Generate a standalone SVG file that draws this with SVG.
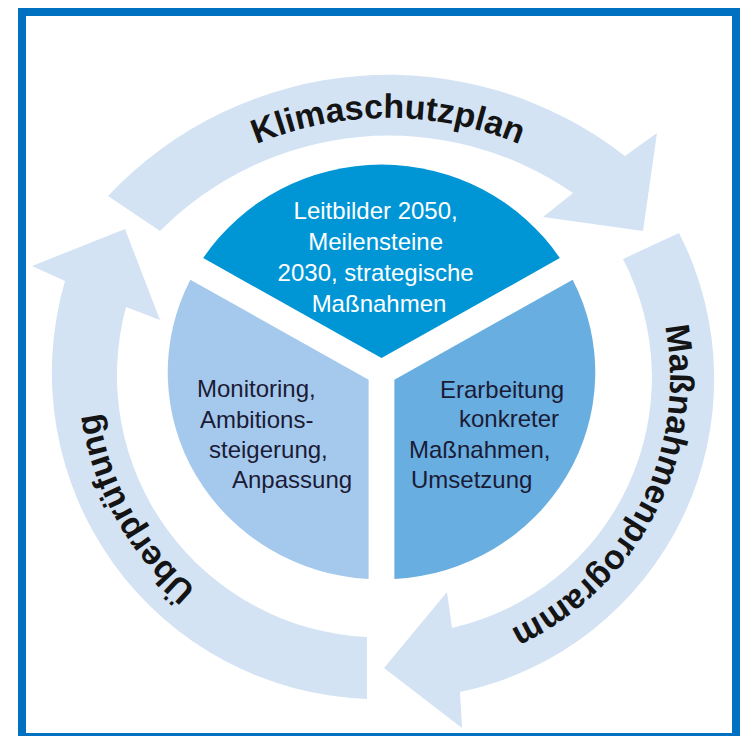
<svg xmlns="http://www.w3.org/2000/svg" width="741" height="736" viewBox="0 0 741 736">
  <style>
    .ring { fill: #d3e3f4; }
    .ringlabel { font-family: "Liberation Sans", Arial, sans-serif; font-size: 34px; font-weight: bold; fill: #141414; }
    .pie-top { fill: #0096d6; }
    .pie-left { fill: #a5c9ec; }
    .pie-right { fill: #69aee0; }
    .label { font-family: "Liberation Sans", Arial, sans-serif; font-size: 24px; }
    .label-light { fill: #ffffff; text-anchor: middle; }
    .label-dark { fill: #1b1b36; }
  </style>
  <defs>
    <!-- baseline arcs for the cycle labels (all run clockwise) -->
    <path id="arcTop" d="M91.8,289 A342,342 0 0 1 684.2,289"/>
    <path id="arcRight" d="M625.5,228.7 A276,276 0 0 1 408.4,654.6"/>
    <path id="arcLeft" d="M373.1,655 A282,282 0 0 1 136.3,227.8"/>
  </defs>

  <!-- frame -->
  <rect x="22" y="12" width="714" height="725" fill="#ffffff" stroke="#0070c0" stroke-width="8"/>

  <!-- cycle arrows -->
  <g id="connectors">
    <g id="arrow-klimaschutzplan">
      <path class="ring" d="M108,196 A385,385 0 0 1 625,156 L657,133 L643,231 L543,217 L573,193 A323,323 0 0 0 160,231 Z"/>
      <text class="ringlabel"><textPath href="#arcTop" startOffset="50%" text-anchor="middle">Klimaschutzplan</textPath></text>
    </g>
    <g id="arrow-massnahmenprogramm">
      <path class="ring" d="M679,233 A320,320 0 0 1 460,692 L462,728 L384,668 L447,592 L452,628 A257,257 0 0 0 623,259 Z"/>
      <text class="ringlabel"><textPath href="#arcRight" startOffset="50%" text-anchor="middle">Maßnahmenprogramm</textPath></text>
    </g>
    <g id="arrow-ueberpruefung">
      <path class="ring" d="M367,699 A326.5,326.5 0 0 1 65,281 L32,266 L125,229 L160,320 L126,307 A262,262 0 0 0 367,637 Z"/>
      <text class="ringlabel"><textPath href="#arcLeft" startOffset="50%" text-anchor="middle">Überprüfung</textPath></text>
    </g>
  </g>

  <!-- centre disc, three sectors -->
  <g id="node-leitbilder">
    <path class="pie-top" transform="translate(381.5,372.5) scale(1.03,1)" d="M0,-14.4 L-173.1,-114.4 A207,207 0 0 1 173.1,-114.4 Z"/>
    <text class="label label-light">
      <tspan x="379" y="219">Leitbilder 2050,</tspan>
      <tspan x="379" y="250">Meilensteine</tspan>
      <tspan x="379" y="281">2030, strategische</tspan>
      <tspan x="379" y="312">Maßnahmen</tspan>
    </text>
  </g>

  <g id="node-monitoring">
    <path class="pie-left" transform="translate(381.5,372.5) scale(1.03,1)" d="M-12.5,7.2 L-185.6,-92.8 A207,207 0 0 0 -12.5,206.6 Z"/>
    <text class="label label-dark">
      <tspan x="197" y="397">Monitoring,</tspan>
      <tspan x="200" y="428">Ambitions-</tspan>
      <tspan x="209" y="458">steigerung,</tspan>
      <tspan x="232" y="488">Anpassung</tspan>
    </text>
  </g>

  <g id="node-erarbeitung">
    <path class="pie-right" transform="translate(381.5,372.5) scale(1.03,1)" d="M12.5,7.2 L185.6,-92.8 A207,207 0 0 1 12.5,206.6 Z"/>
    <text class="label label-dark">
      <tspan x="440" y="398">Erarbeitung</tspan>
      <tspan x="459" y="427">konkreter</tspan>
      <tspan x="409" y="458">Maßnahmen,</tspan>
      <tspan x="411" y="488">Umsetzung</tspan>
    </text>
  </g>
</svg>
